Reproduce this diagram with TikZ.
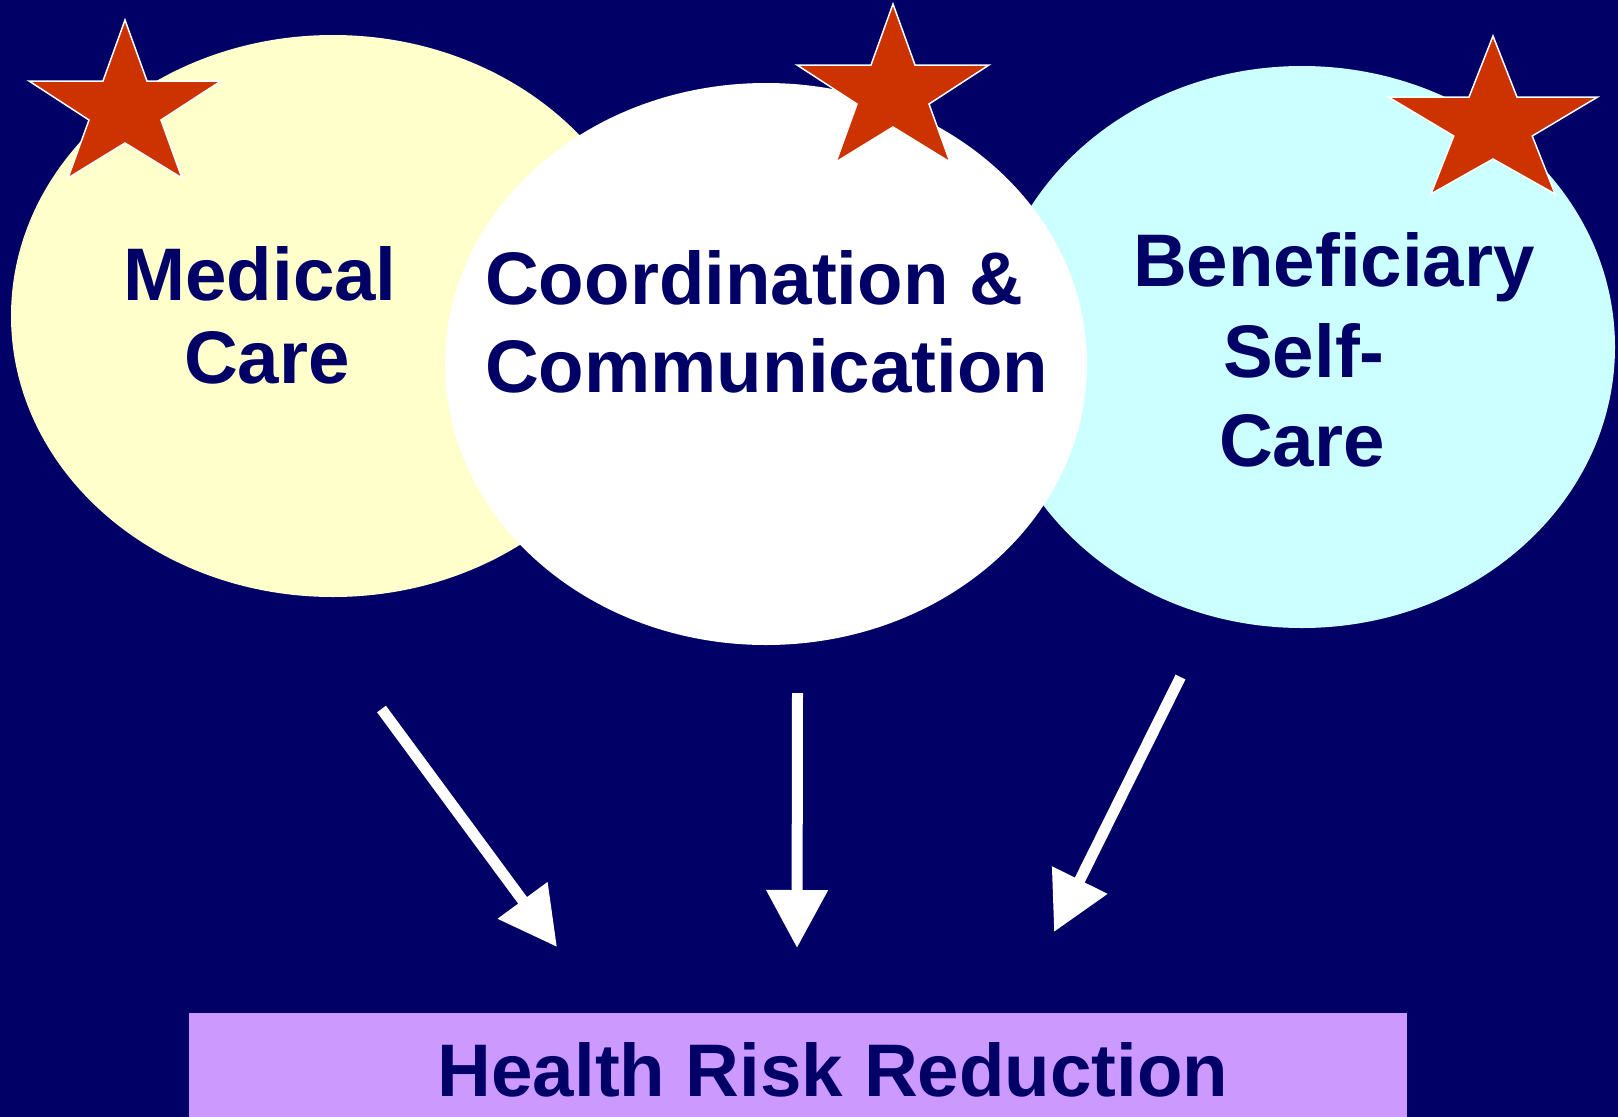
\documentclass[tikz,border=0pt]{standalone}
\usepackage{fontspec}
\setmainfont{Liberation Sans}
\usetikzlibrary{shapes.geometric,arrows.meta}

\definecolor{navy}{RGB}{0,0,102}
\definecolor{paleyellow}{RGB}{255,255,204}
\definecolor{palecyan}{RGB}{204,255,255}
\definecolor{starred}{RGB}{204,51,0}
\definecolor{lilac}{RGB}{204,153,255}

\tikzset{
  circlearea/.style={ellipse, inner sep=0pt, minimum width=644pt, minimum height=562pt},
  label/.style={text=navy, font=\bfseries\fontsize{74.5}{85}\selectfont, inner sep=0pt, anchor=base},
  starshape/.style={fill=starred, draw=white, line width=1.5pt, line join=miter},
  flow/.style={draw=white, line width=11pt, -{Triangle[length=58pt,width=59pt]}},
  redstar/.pic={
    \path[starshape] (0,0) -- (-22,61) -- (-96,61) -- (-36,100) -- (-57,158)
      -- (0,123) -- (57,158) -- (36,100) -- (96,61) -- (22,61) -- cycle;
  }
}

\begin{document}
\begin{tikzpicture}[x=1pt, y=-1pt]
  % page and background
  \useasboundingbox (0,0) rectangle (1618,1117);
  \fill[navy] (0,0) rectangle (1618,1117);

  % the three overlapping areas (white one on top)
  \node[circlearea, fill=paleyellow] (medical) at (333,316) {};
  \node[circlearea, fill=palecyan, minimum width=626pt] (selfcare) at (1302,347) {};
  \node[circlearea, fill=white, minimum width=642pt] (coord) at (766,364) {};

  % stars
  \pic (s1) at (125,20) {redstar};
  \pic (s2) at (893,4) {redstar};
  \pic[xscale=1.09] (s3) at (1493,36) {redstar};

  % area labels
  \node[label] (med1) at (260,300) {Medical};
  \node[label] (med2) at (267,383) {Care};
  \node[label, anchor=base west] (co1) at (485,304) {Coordination \&};
  \node[label, anchor=base west] (co2) at (485,392) {Communication};
  \node[label] (be1) at (1334,286) {Beneficiary};
  \node[label] (be2) at (1304,377) {Self-};
  \node[label] (be3) at (1302,466) {Care};

  % outcome box
  \node[rectangle, fill=lilac, inner sep=0pt, minimum width=1218pt, minimum height=130pt,
        anchor=north west] (riskbox) at (189,1013) {};
  \node[label] (risk) at (833,1096) {Health Risk Reduction};

  % arrows into the outcome
  \coordinate (a1s) at (381.5,709);
  \coordinate (a1e) at (557,947);
  \coordinate (a2s) at (797.5,693);
  \coordinate (a2e) at (797,948);
  \coordinate (a3s) at (1180.5,677);
  \coordinate (a3e) at (1054,932);
  \draw[flow] (a1s) -- (a1e);
  \draw[flow] (a2s) -- (a2e);
  \draw[flow] (a3s) -- (a3e);
\end{tikzpicture}
\end{document}
